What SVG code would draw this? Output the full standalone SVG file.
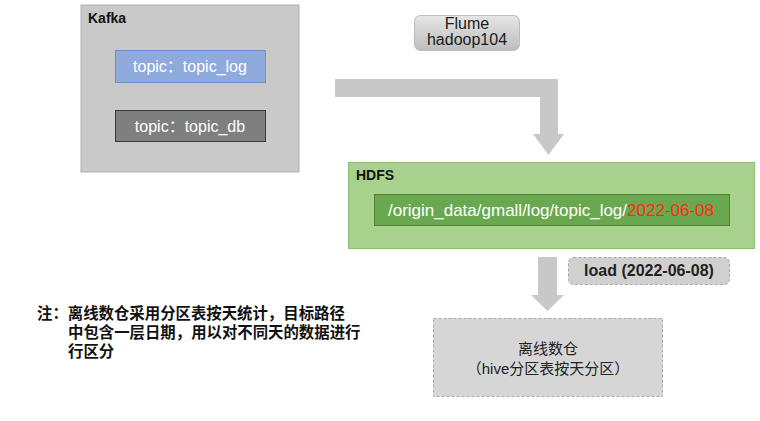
<svg xmlns="http://www.w3.org/2000/svg" width="760" height="421" viewBox="0 0 760 421">
<style>
text{font-family:"Liberation Sans","Noto Sans CJK SC",sans-serif;}
.w{fill:#ffffff;font-size:16px;text-anchor:middle;}
.lbl{fill:#111;font-size:14px;font-weight:bold;}
.arrow{fill:#c8c8c8;}
</style>
<defs>
<linearGradient id="gf" x1="0" y1="0" x2="0" y2="1">
<stop offset="0" stop-color="#e6e6e6"/><stop offset="1" stop-color="#bdbdbd"/>
</linearGradient>
</defs>
<rect width="760" height="421" fill="#ffffff"/>
<g id="kafka">
<rect x="81" y="5" width="218" height="167" fill="#c9c9c9" stroke="#b0b0b0"/>
<text x="88" y="23" class="lbl">Kafka</text>
</g>
<g id="topic_log">
<rect x="115.5" y="50.5" width="150" height="32" fill="#8faadc" stroke="#6d8fd6"/>
<text x="190" y="72" class="w">topic：topic_log</text>
</g>
<g id="topic_db">
<rect x="115.5" y="110.5" width="150" height="31" fill="#7f7f7f" stroke="#3a3a3a"/>
<text x="190" y="132" class="w">topic：topic_db</text>
</g>
<g id="flume">
<rect x="414.5" y="15.5" width="105" height="35" rx="6" fill="url(#gf)" stroke="#bbbbbb"/>
<text x="467" y="29" font-size="16" fill="#1a1a1a" text-anchor="middle">Flume</text>
<text x="467" y="45" font-size="16" fill="#1a1a1a" text-anchor="middle">hadoop104</text>
</g>
<g id="hdfs">
<rect x="348.5" y="162.5" width="406" height="86" fill="#a9d18e" stroke="#8fbf70"/>
<text x="356" y="180" class="lbl">HDFS</text>
</g>
<g id="path">
<rect x="374.5" y="194.5" width="355" height="31" fill="#6aa84f" stroke="#548235"/>
<text x="551" y="216" font-size="17" text-anchor="middle"><tspan fill="#ffffff">/origin_data/gmall/log/topic_log/</tspan><tspan fill="#ff2a1a">2022-06-08</tspan></text>
</g>
<g id="load">
<rect x="568.5" y="257.5" width="161" height="27" rx="5" fill="#d0d0d0" stroke="#a8a8a8" stroke-dasharray="3,2"/>
<text x="649" y="276" font-size="16" font-weight="bold" fill="#222" text-anchor="middle">load (2022-06-08)</text>
</g>
<g id="warehouse">
<rect x="433.5" y="318.5" width="229" height="78" fill="#d6d6d6" stroke="#a8a8a8" stroke-dasharray="3,2"/>
<text x="548" y="354" font-size="15" fill="#222" text-anchor="middle">离线数仓</text>
<text x="548" y="374" font-size="15" fill="#222" text-anchor="middle">（hive分区表按天分区）</text>
</g>
<g id="note" font-size="15.4" font-weight="bold" fill="#111">
<text x="37" y="319">注：离线数仓采用分区表按天统计，目标路径</text>
<text x="68" y="338">中包含一层日期，用以对不同天的数据进行</text>
<text x="68" y="357">行区分</text>
</g>
<g id="connectors">
<path class="arrow" d="M335 79 H558 V134 H564 L548.5 155 L533 134 H540 V97 H335 Z"/>
<path class="arrow" d="M538 257 H557 V295 H564 L547.5 311 L531 295 H538 Z"/>
</g>
</svg>
